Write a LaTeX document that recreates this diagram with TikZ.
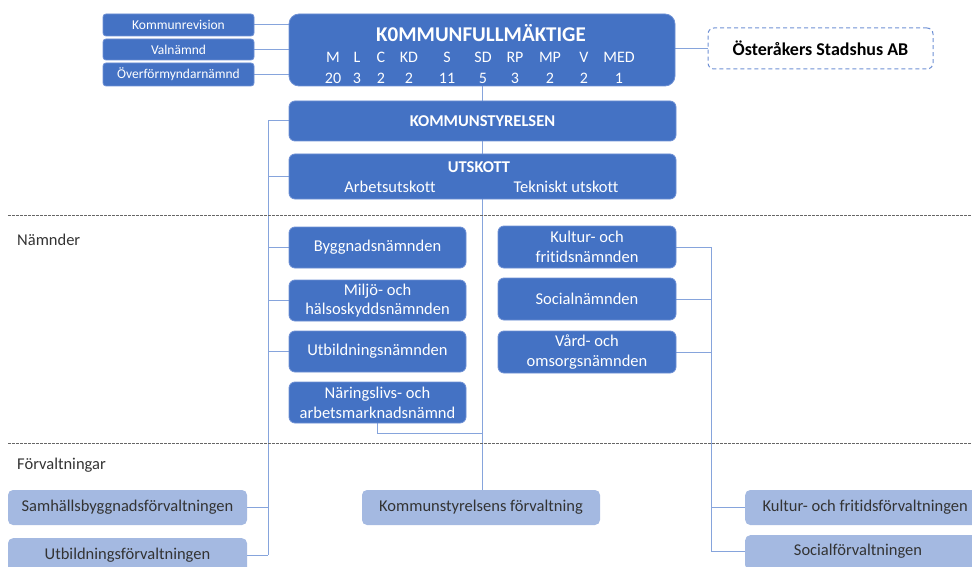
\documentclass[tikz,border=0pt]{standalone}
\usepackage{fontspec}
\setmainfont{Carlito}[Ligatures={NoCommon}]
\usetikzlibrary{backgrounds,calc}
\definecolor{dk}{HTML}{4472C4}
\definecolor{dkb}{HTML}{6E90D4}
\definecolor{lt}{HTML}{A4B9E1}
\definecolor{ln}{HTML}{86A4DC}
\definecolor{tx}{HTML}{333333}
\newcommand{\fs}[1]{\fontsize{#1}{\fpeval{1.2*#1}}\selectfont}
\tikzset{
  dbox/.style={draw=dkb, line width=0.8pt, fill=dk, rounded corners=6pt, text=white, align=center, inner sep=0pt},
  lbox/.style={fill=lt, rounded corners=5pt, text=tx, align=center, inner sep=0pt},
  conn/.style={draw=ln, line width=1pt},
  sep/.style={draw=gray!80!black, line width=0.6pt, dash pattern=on 2.5pt off 1.5pt},
  plain/.style={inner sep=0pt, text=white},
}
\begin{document}
\begin{tikzpicture}[x=1pt,y=-1pt]
\useasboundingbox (0,0) rectangle (972,567);
% small boxes
\node[dbox, rounded corners=3pt, minimum width=151, minimum height=22, font=\fs{13.5}] (rev) at (178.5,25) {Kommunrevision};
\node[dbox, rounded corners=3pt, minimum width=151, minimum height=21, font=\fs{13.5}] (val) at (178.5,49.5) {Valnämnd};
\node[dbox, rounded corners=3pt, minimum width=151, minimum height=23, font=\fs{13.5}] (ovf) at (178.5,74.5) {Överförmyndarnämnd};
% KF
\node[dbox, rounded corners=10pt, minimum width=386, minimum height=72] (kf) at (482,50) {};
\node[plain, font=\fs{21}\bfseries] (kft) at (481,33) {K0MMUNFULLMÄKTIGE};
\foreach \p/\n/\x [count=\i] in {M/20/333, L/3/357, C/2/381, KD/2/409, S/11/447, SD/5/483, RP/3/515, MP/2/550, V/2/584, MED/1/619}{
  \node[plain, font=\fs{16}] (p\i) at (\x,57) {\p};
  \node[plain, font=\fs{16}] (n\i) at (\x,78) {\n};
}
% Stadshus
\node[draw=dkb, line width=1pt, dash pattern=on 4pt off 3pt, rounded corners=6pt, minimum width=225, minimum height=41, inner sep=0pt, font=\fs{18}\bfseries, text=black] (sh) at (820.5,48.5) {Österåkers Stadshus AB};
% KS
\node[dbox, minimum width=387, minimum height=40, font=\fs{16.5}\bfseries] (ks) at (482.5,121) {KOMMUNSTYRELSEN};
\node[dbox, minimum width=387, minimum height=45] (ut) at (482.5,176.5) {};
\node[plain, font=\fs{16.5}\bfseries] (utt) at (479,167) {UTSKOTT};
\node[plain, font=\fs{16.5}] (au) at (390,187) {Arbetsutskott};
\node[plain, font=\fs{16.5}] (tu) at (566,187) {Tekniskt utskott};
% separators
\coordinate (s1a) at (8,215); \coordinate (s1b) at (972,215);
\coordinate (s2a) at (8,443); \coordinate (s2b) at (972,443);
\draw[sep] (s1a) -- (s1b);
\draw[sep] (s2a) -- (s2b);
\node[inner sep=0pt, anchor=west, font=\fs{16.5}, text=tx] (lbn) at (17,240) {Nämnder};
\node[inner sep=0pt, anchor=west, font=\fs{16.5}, text=tx] (lbf) at (17,465) {Förvaltningar};
% nämnder left
\node[dbox, minimum width=177, minimum height=41, font=\fs{16.5}] (byg) at (377.5,247.5) {Byggnadsnämnden};
\node[dbox, minimum width=177, minimum height=41, font=\fs{16.5}] (mil) at (377.5,300.5) {Miljö- och\\hälsoskyddsnämnden};
\node[dbox, minimum width=177, minimum height=41, font=\fs{16.5}] (utb) at (377.5,351.5) {Utbildningsnämnden};
\node[dbox, minimum width=177, minimum height=41, font=\fs{16.5}] (nar) at (377.5,402.5) {Näringslivs- och\\arbetsmarknadsnämnd};
% nämnder right
\node[dbox, minimum width=178, minimum height=42, font=\fs{16.5}] (kul) at (587,247) {Kultur- och\\fritidsnämnden};
\node[dbox, minimum width=178, minimum height=42, font=\fs{16.5}] (soc) at (587,299) {Socialnämnden};
\node[dbox, minimum width=178, minimum height=42, font=\fs{16.5}] (vrd) at (587,352) {Vård- och\\omsorgsnämnden};
% förvaltningar
\node[lbox, minimum width=239, minimum height=35, font=\fs{16.5}] (samf) at (127.5,507.5) {Samhällsbyggnadsförvaltningen};
\node[lbox, minimum width=239, minimum height=35, font=\fs{16.5}, anchor=north] (utbf) at (127.5,538) {};
\node[inner sep=0pt, font=\fs{16.5}, text=tx] (utbft) at (127.5,555) {Utbildningsförvaltningen};
\node[lbox, minimum width=238, minimum height=35, font=\fs{16.5}] (ksf) at (481,507.5) {Kommunstyrelsens förvaltning};
\node[lbox, minimum width=240, minimum height=35, font=\fs{16.5}, anchor=west] (kulf) at (745,507.5) {Kultur- och fritidsförvaltningen};
\node[lbox, minimum width=240, minimum height=35, font=\fs{16.5}, anchor=north west] (socf) at (745,535) {};
\node[inner sep=0pt, font=\fs{16.5}, text=tx] (socft) at (858,551) {Socialförvaltningen};
% connectors
\coordinate (lx) at (268,0);
\coordinate (rx) at (711,0);
\coordinate (nj) at (482,433);
\begin{scope}[on background layer]
\draw[conn] (rev.east) -- (rev.east -| kf.west);
\draw[conn] (val.east) -- (val.east -| kf.west);
\draw[conn] (ovf.east) -- (ovf.east -| kf.west);
\draw[conn] (kf.east |- sh.west) -- (sh.west);
\draw[conn] (kf.south) -- (ksf.north -| kf.south);
\draw[conn] (ks.west) -- (ks.west -| lx) -- (lx |- utbft);
\draw[conn] (ut.west) -- (ut.west -| lx);
\draw[conn] (byg.west) -- (byg.west -| lx);
\draw[conn] (mil.west) -- (mil.west -| lx);
\draw[conn] (utb.west) -- (utb.west -| lx);
\draw[conn] (samf.east) -- (samf.east -| lx);
\draw[conn] (utbf.east |- utbft) -- (lx |- utbft);
\draw[conn] (nar.south) |- (nj);
\draw[conn] (kul.east) -- (kul.east -| rx) -- (rx |- socft) -- (socf.west |- socft);
\draw[conn] (soc.east) -- (soc.east -| rx);
\draw[conn] (vrd.east) -- (vrd.east -| rx);
\draw[conn] (kulf.west) -- (kulf.west -| rx);
\end{scope}
\end{tikzpicture}
\end{document}
